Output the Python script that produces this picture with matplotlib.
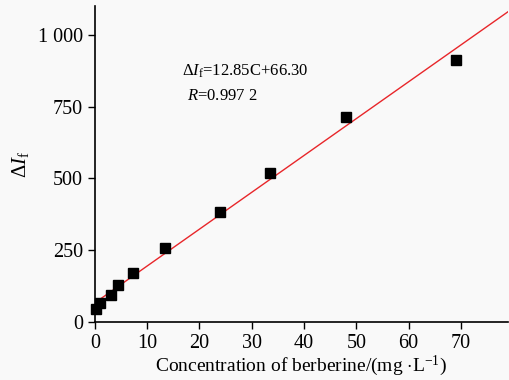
import numpy as np
import matplotlib
matplotlib.use('Agg')
import matplotlib.pyplot as plt

# data
conc = [0.2, 1.0, 3.0, 4.5, 7.3, 13.4, 24.0, 33.4, 48.0, 69.0]
dIf = [45, 67, 95, 127, 170, 258, 383, 519, 716, 912]
slope = 12.85
intercept = 66.30
xticks = [0, 10, 20, 30, 40, 50, 60, 70]
yticks = [0, 250, 500, 750, 1000]
ytick_labels = ['0', '250', '500', '750', '1 000']

plt.rcParams['font.family'] = 'Liberation Serif'
plt.rcParams['mathtext.fontset'] = 'custom'
plt.rcParams['mathtext.rm'] = 'Liberation Serif'
plt.rcParams['mathtext.it'] = 'Liberation Serif:italic'

fig = plt.figure(figsize=(5.1, 3.8), dpi=100)
fig.patch.set_facecolor('#f9f9f9')
ax = fig.add_axes([0.186, 0.153, 0.81, 0.83])
ax.set_facecolor('#f9f9f9')

xfit = np.array([0, 79])
ax.plot(xfit, slope * xfit + intercept, color='#e8262a', lw=1.0, zorder=2)
ax.plot(conc, dIf, 's', color='black', ms=6.8, zorder=3, clip_on=False)

ax.set_xlim(0, 79)
ax.set_ylim(0, 1100)
ax.set_xticks(xticks)
ax.set_yticks(yticks)
ax.set_yticklabels(ytick_labels)
ax.tick_params(labelsize=14.5, direction='out', length=5, width=1, colors='black')

for s in ['top', 'right']:
    ax.spines[s].set_visible(False)
for s in ['left', 'bottom']:
    ax.spines[s].set_linewidth(1.2)

ax.set_xlabel('Concentration of berberine/(mg $\\cdot$L$^{-1}$)', fontsize=14, labelpad=1)
ax.set_ylabel('$\\Delta I_\\mathrm{f}$', fontsize=15, labelpad=5)

ax.text(16.7, 874, '$\\Delta I_\\mathrm{f}$=12.85C+66.30', fontsize=12, va='center')
ax.text(17.6, 787, '$R$=0.997 2', fontsize=12, va='center')

fig.savefig('out.png', dpi=100, facecolor=fig.get_facecolor())
